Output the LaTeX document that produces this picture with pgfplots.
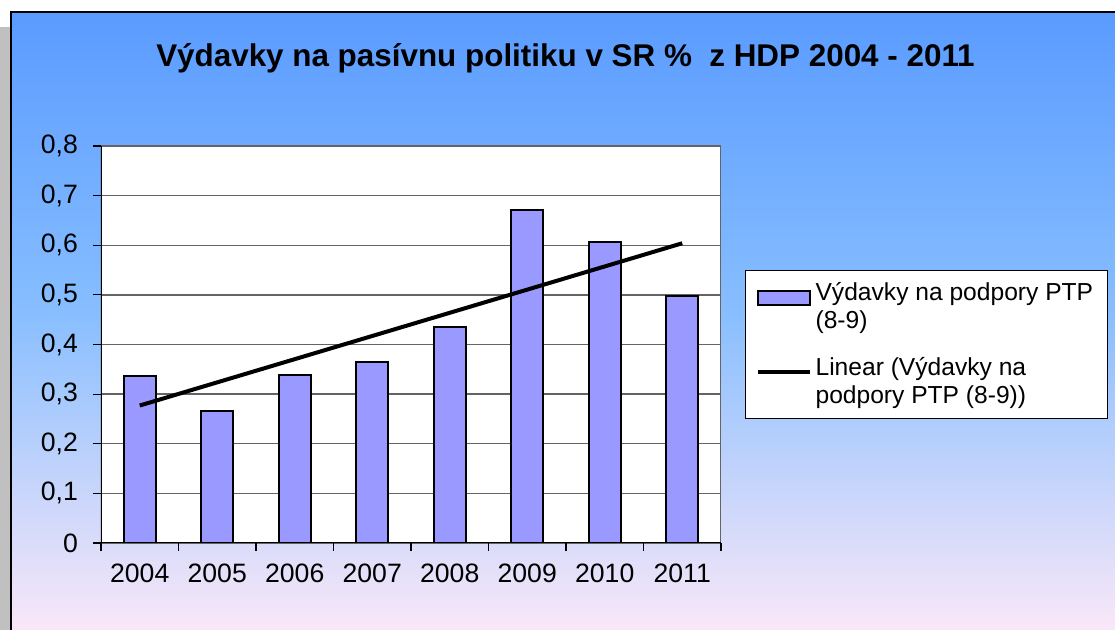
\documentclass[border=0pt]{standalone}
\usepackage{fontspec}
\setmainfont{Liberation Sans}
\usepackage{pgfplots}
\pgfplotsset{compat=1.18}

\definecolor{barfill}{RGB}{153,153,255}
\definecolor{bgtop}{RGB}{90,155,255}
\definecolor{bgmid}{RGB}{135,190,255}
\definecolor{bgbot}{RGB}{251,232,248}
\definecolor{gridc}{RGB}{100,100,100}
\definecolor{strip}{RGB}{192,192,192}

\pgfplotsset{
    barlegend/.style={legend image code/.code={\draw[##1] (0pt,1.3pt) rectangle (26pt,8.2pt);}},
    linelegend/.style={legend image code/.code={\draw[##1] (0pt,5.3pt) -- (26pt,5.3pt);}},
}

\begin{document}
\begin{tikzpicture}
\useasboundingbox (0,0) rectangle (557.5pt,315pt);
% page background, grey strip and the chart frame
\fill[white] (0,0) rectangle (557.5pt,315pt);
\fill[strip] (0,0) rectangle (5.5pt,301.5pt);
\shade[top color=bgtop, bottom color=bgmid] (5.5pt,159.9pt) rectangle (560pt,309pt);
\shade[top color=bgmid, bottom color=bgbot] (5.5pt,-2pt) rectangle (560pt,160pt);
\draw[black, line width=0.8pt] (5.5pt,-2pt) -- (5.5pt,309pt) -- (560pt,309pt);

\node[anchor=base, font=\bfseries\fontsize{15.7}{18}\selectfont]
  at (282.75pt,281.5pt) {Výdavky na pasívnu politiku v SR \%\ \ z HDP 2004 - 2011};

\begin{axis}[
    at={(50.5pt,43.5pt)}, anchor=south west,
    width=310pt, height=198.5pt, scale only axis,
    xmin=-0.5, xmax=7.5,
    ymin=0, ymax=0.8,
    xtick={-0.5,0.5,...,7.5},
    xticklabels={2004,2005,2006,2007,2008,2009,2010,2011},
    x tick label as interval,
    ytick={0,0.1,0.2,0.3,0.4,0.5,0.6,0.7,0.8},
    xtick pos=bottom, ytick pos=left,
    /pgf/number format/use comma,
    /pgf/number format/fixed,
    /pgf/number format/precision=1,
    /pgf/number format/assume math mode=true,
    tick align=outside,
    major tick length=4pt,
    tick style={black, line width=0.6pt},
    ymajorgrids=true,
    grid style={gridc, line width=0.7pt},
    axis line style={draw=none},
    axis background/.style={fill=white},
    ticklabel style={font=\fontsize{13.3}{15}\selectfont},
    yticklabel style={xshift=-4pt},
    xticklabel style={yshift=-3pt},
    legend cell align=left,
    legend style={
        at={(1.0387,0.6877)}, anchor=north west,
        draw=black, fill=white, line width=0.6pt,
        font=\fontsize{12.3}{14}\selectfont,
        cells={align=left},
        row sep=9pt,
        inner xsep=5pt, inner ysep=4pt,
    },
]

\addplot[ybar, bar width=0.41, fill=barfill, draw=black, line width=1pt, barlegend]
    coordinates {
    (0,0.336)(1,0.266)(2,0.339)(3,0.365)(4,0.435)(5,0.672)(6,0.607)(7,0.497)
    };
\addlegendentry{Výdavky na podpory PTP\\(8-9)}

\addplot[black, line width=2pt, linelegend]
    coordinates {(0,0.277)(7,0.604)};
\addlegendentry{Linear (Výdavky na\\podpory PTP (8-9))}

\draw[gridc, line width=0.8pt] (rel axis cs:0,1) -- (rel axis cs:1,1) -- (rel axis cs:1,0);
\draw[black, line width=0.8pt] (rel axis cs:0,1) -- (rel axis cs:0,0) -- (rel axis cs:1,0);
\end{axis}
\end{tikzpicture}
\end{document}
